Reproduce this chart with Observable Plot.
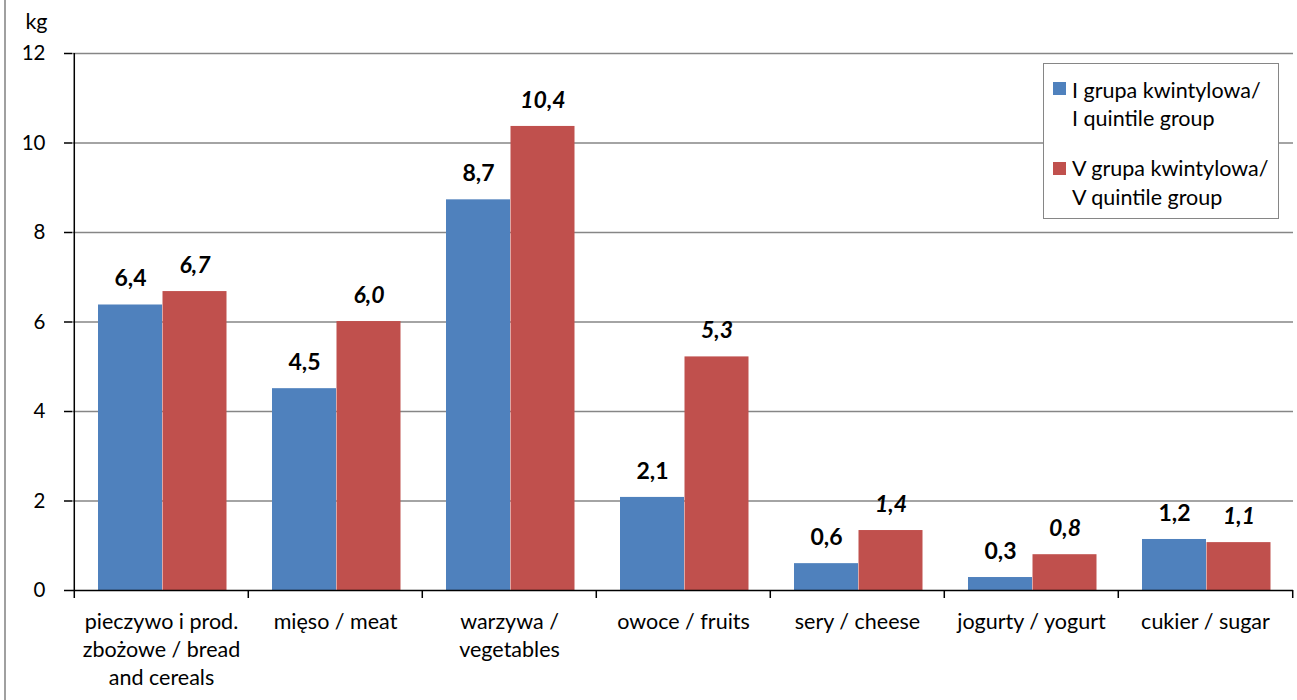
<!DOCTYPE html>
<html>
<head>
<meta charset="utf-8">
<script src="https://cdn.jsdelivr.net/npm/d3@7"></script>
<script src="https://cdn.jsdelivr.net/npm/@observablehq/plot@0.6"></script>
<style>
  body { margin: 0; background: #fff; }
  #wrap { position: relative; width: 1297px; height: 700px; overflow: hidden; font-family: Lato, "Open Sans", sans-serif; }
  #frameLine { position: absolute; left: 4px; top: 0; width: 2px; height: 700px; background: #a0a0a0; }
  #legend { position: absolute; left: 1043px; top: 63px; width: 236px; height: 156px; border: 1px solid #868686; background: #fff; box-sizing: border-box; }
  .sw { position: absolute; left: 9px; width: 13px; height: 13px; }
  .ln { position: absolute; left: 28px; height: 28px; line-height: 28px; font-size: 21.5px; color: #000; white-space: nowrap; }
</style>
</head>
<body>
<div id="wrap"><div id="frameLine"></div></div>
<script>
// ---- data ----
const categories = [
  "pieczywo i prod.\nzbożowe / bread\nand cereals",
  "mięso / meat",
  "warzywa /\nvegetables",
  "owoce / fruits",
  "sery / cheese",
  "jogurty / yogurt",
  "cukier / sugar"
];
const group1Values = [6.38, 4.51, 8.73, 2.08, 0.60, 0.29, 1.14];
const group5Values = [6.68, 6.01, 10.37, 5.22, 1.34, 0.80, 1.07];
const group1Labels = ["6,4", "4,5", "8,7", "2,1", "0,6", "0,3", "1,2"];
const group5Labels = ["6,7", "6,0", "10,4", "5,3", "1,4", "0,8", "1,1"];
const yTicks = [0, 2, 4, 6, 8, 10, 12];
const seriesNames = [["I grupa kwintylowa/", "I quintile group"], ["V grupa kwintylowa/", "V quintile group"]];
const seriesColors = ["#4F81BD", "#C0504D"];
const yUnit = "kg";

const rows = categories.map((c, i) => ({
  category: c, g1: group1Values[i], g5: group5Values[i], l1: group1Labels[i], l5: group5Labels[i]
}));

const W = 1297, H = 700, mL = 72, mR = 4, mT = 53, mB = 110;
const step = (W - mL - mR) / categories.length;
const font = "Lato, 'Open Sans', sans-serif";

const chart = Plot.plot({
  width: W, height: H,
  marginLeft: mL, marginRight: mR, marginTop: mT, marginBottom: mB,
  style: { fontFamily: font, fontSize: "20px", color: "#000", background: "transparent", overflow: "visible" },
  x: { domain: categories, padding: 0 },
  y: { domain: [0, 12] },
  marks: [
    Plot.gridY(yTicks.filter(t => t > 0), { stroke: "#868686", strokeOpacity: 1, strokeWidth: 1.3 }),
    Plot.barY(rows, { x: "category", y: "g1", fill: seriesColors[0], insetLeft: 24, insetRight: 86 }),
    Plot.barY(rows, { x: "category", y: "g5", fill: seriesColors[1], insetLeft: 88.5, insetRight: 21.5 }),
    Plot.ruleY([0], { stroke: "#000", strokeWidth: 1.5 }),
    Plot.ruleX([categories[0]], { x: d => d, dx: -step / 2, y1: 0, y2: 12, stroke: "#000", strokeWidth: 1.5 }),
    Plot.ruleX(categories, { x: d => d, dx: -step / 2, y1: 0, y2: 0, insetBottom: -8, stroke: "#000", strokeWidth: 1.5 }),
    Plot.ruleX([categories[categories.length - 1]], { x: d => d, dx: step / 2, y1: 0, y2: 0, insetBottom: -8, stroke: "#000", strokeWidth: 1.5 }),
    Plot.axisY(yTicks, { anchor: "left", tickSize: 8, tickPadding: 19, fontSize: 20.5, strokeWidth: 1.5, label: null }),
    Plot.axisX({ tickSize: 0, tickPadding: 19, fontSize: 21.5, lineHeight: 1.3, label: null, tickFormat: d => d }),
    Plot.text([yUnit], { frameAnchor: "top-left", text: d => d, dx: -25, dy: -31, textAnchor: "end", lineAnchor: "middle", fontSize: 21.5 }),
    Plot.text(rows, { x: "category", y: "g1", text: "l1", dx: -31, dy: -26, fontSize: 23, fontWeight: "bold" }),
    Plot.text(rows, { x: "category", y: "g5", text: "l5", dx: 33.5, dy: -26, fontSize: 23, fontWeight: "bold", fontStyle: "italic" })
  ]
});
chart.style.position = "absolute";
chart.style.left = "0px";
chart.style.top = "0px";
const wrap = document.getElementById("wrap");
wrap.appendChild(chart);

// legend
const legend = document.createElement("div");
legend.id = "legend";
const swTops = [18, 98];
const lineTops = [[12, 40], [90, 119]];
seriesNames.forEach((lines, k) => {
  const sw = document.createElement("div");
  sw.className = "sw";
  sw.style.top = swTops[k] + "px";
  sw.style.background = seriesColors[k];
  legend.appendChild(sw);
  lines.forEach((t, j) => {
    const d = document.createElement("div");
    d.className = "ln";
    d.style.top = lineTops[k][j] + "px";
    d.textContent = t;
    legend.appendChild(d);
  });
});
wrap.appendChild(legend);
</script>
</body>
</html>
